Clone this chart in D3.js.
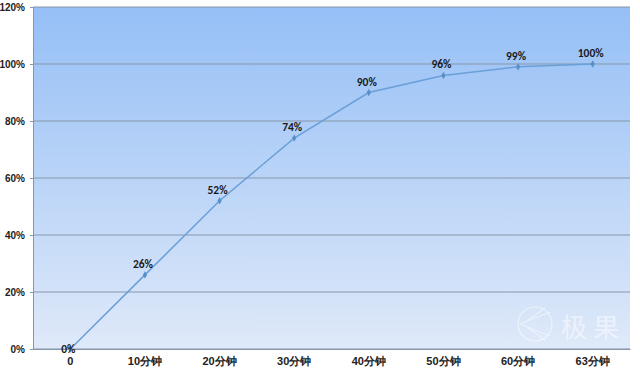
<!DOCTYPE html>
<html>
<head>
<meta charset="utf-8">
<script src="https://cdn.jsdelivr.net/npm/d3@7"></script>
<style>
  body { margin: 0; background: #fff; }
  svg { display: block; font-family: Calibri, Carlito, "Noto Sans CJK SC", "Liberation Sans", sans-serif; }
</style>
</head>
<body>
<div id="chart"></div>
<script>
const categories = ['0', '10分钟', '20分钟', '30分钟', '40分钟', '50分钟', '60分钟', '63分钟'];
const values = [0, 26, 52, 74, 90, 96, 99, 100];
const yTicks = [0, 20, 40, 60, 80, 100, 120];

const width = 640, height = 372;
const margin = { top: 7, right: 10, bottom: 23, left: 33 };

const svg = d3.select('#chart').append('svg')
    .attr('width', width)
    .attr('height', height);

const x = d3.scaleBand()
    .domain(categories)
    .range([margin.left, width - margin.right]);

const y = d3.scaleLinear()
    .domain([0, 120])
    .range([height - margin.bottom, margin.top]);

// background gradient of plot area
const defs = svg.append('defs');
const grad = defs.append('linearGradient')
    .attr('id', 'bg')
    .attr('x1', '0%').attr('y1', '0%')
    .attr('x2', '0%').attr('y2', '100%');
grad.append('stop').attr('offset', '0%').attr('stop-color', '#95bff6');
grad.append('stop').attr('offset', '100%').attr('stop-color', '#dfe9f9');

svg.append('rect')
    .attr('x', margin.left)
    .attr('y', margin.top)
    .attr('width', width - margin.left - margin.right)
    .attr('height', height - margin.top - margin.bottom)
    .attr('fill', 'url(#bg)');

// grid lines
svg.append('g')
    .selectAll('line')
    .data(yTicks)
    .enter()
    .append('line')
    .attr('x1', margin.left)
    .attr('x2', width - margin.right)
    .attr('y1', d => y(d))
    .attr('y2', d => y(d))
    .attr('stroke', '#8797a8')
    .attr('stroke-width', 1);

// y axis
const yAxis = svg.append('g')
    .attr('transform', `translate(${margin.left}, 0)`)
    .call(d3.axisLeft(y).tickValues(yTicks).tickFormat(d => d + '%').tickSize(3));
yAxis.select('.domain').attr('stroke', '#8797a8');
yAxis.selectAll('.tick line').attr('stroke', '#8797a8');
yAxis.selectAll('.tick text')
    .attr('x', -8)
    .style('font-size', '10px')
    .style('font-weight', 'bold')
    .attr('fill', '#222');

// x axis
const xAxis = svg.append('g')
    .attr('transform', `translate(0, ${height - margin.bottom})`)
    .call(d3.axisBottom(x).tickSize(0));
xAxis.select('.domain').attr('stroke', '#8797a8');
xAxis.selectAll('.tick text')
    .attr('dy', '1.2em')
    .style('font-size', '11px')
    .style('font-weight', 'bold')
    .attr('fill', '#222');

// watermark
const wm = svg.append('g').attr('opacity', 0.5);
wm.append('circle')
    .attr('cx', 535).attr('cy', 324).attr('r', 17)
    .attr('fill', 'none').attr('stroke', '#fff').attr('stroke-width', 1.2);
wm.append('path')
    .attr('d', 'M550,312 L520,324 L550,336 M527,321 L545,308 M527,327 L545,340')
    .attr('fill', 'none').attr('stroke', '#fff').attr('stroke-width', 1.2);
wm.append('text')
    .attr('x', 561).attr('y', 337)
    .attr('textLength', 58)
    .text('极果')
    .style('font-family', '"Noto Sans CJK SC", sans-serif')
    .style('font-size', '26px')
    .attr('fill', '#fff');

// line
const pts = categories.map((c, i) => ({ c, v: values[i] }));
const line = d3.line()
    .x(d => x(d.c) + x.bandwidth() / 2)
    .y(d => y(d.v));

svg.append('path')
    .datum(pts)
    .attr('d', line)
    .attr('fill', 'none')
    .attr('stroke', '#6a9fd8')
    .attr('stroke-width', 1.5);

svg.append('g')
    .selectAll('path')
    .data(pts)
    .enter()
    .append('path')
    .attr('d', d3.symbol().type(d3.symbolDiamond).size(16))
    .attr('transform', d => `translate(${x(d.c) + x.bandwidth() / 2}, ${y(d.v)})`)
    .attr('fill', '#5b8fc8');

// data labels
svg.append('g')
    .selectAll('text')
    .data(pts)
    .enter()
    .append('text')
    .attr('x', d => x(d.c) + x.bandwidth() / 2 - 2)
    .attr('y', d => y(d.v) - (d.v === 0 ? -4 : 7))
    .attr('text-anchor', 'middle')
    .text(d => d.v + '%')
    .style('font-size', '11.5px')
    .style('font-weight', 'bold')
    .attr('fill', '#1a1a1a');
</script>
</body>
</html>
